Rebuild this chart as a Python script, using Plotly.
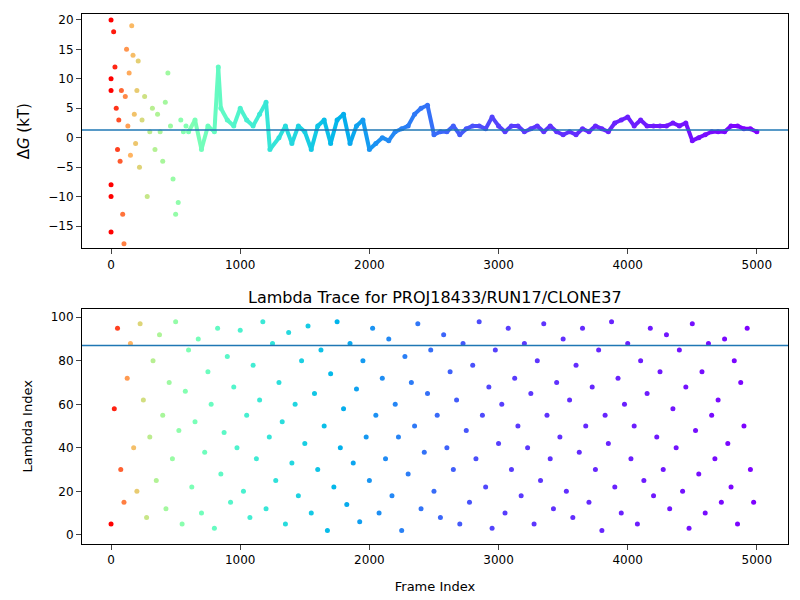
import math
import numpy as np
import plotly.graph_objects as go
from plotly.subplots import make_subplots

# ---- data ----
dg_frames = [0,0,0,0,0,0,20,30,40,50,60,70,80,90,100,110,120,130,140,150,160,170,180,190,200,210,220,240,260,280,300,320,340,360,380,400,420,440,460,480,500,520,540,560,580,
             600,650,700,750,800,830,850,900,950,1000,1050,1100,1150,1200,1230,1300,1350,1400,1450,1500,1550,1600,1650,1700,1750,1800,1850,1900,1950,2000,2050,2100,2150,2200,2250,2300,2350,2400,2450,2500,2550,2600,2650,2700,2750,2800,2850,2900,2950,3000,3050,3100,3150,3200,3250,3300,3350,3400,3450,3500,3550,3600,3650,3700,3750,3800,3850,3900,3950,4000,4050,4100,4150,4200,4250,4300,4350,4400,4450,4500,4550,4600,4650,4700,4750,4800,4850,4900,4950,5000]
dg_values = [20,10,8,-8,-10,-16,18,12,5,-2,3,-4,8,-13,-18,7,15,2,11,-3,19,14,4,-1,8,13,-5,3,7,-10,1,5,-2,4,1,-4,6,11,2,-7,-13,-11,3,1,2,
             1,3,-2,2,1,12,5,3,2,5,3,2,4,6,-2,0,2,-1,2,1,-2,2,3,-1,3,4,-1,2,3,-2,-1,0,-0.5,1,1.5,2,4,5,5.5,0.5,1,1,2,0.5,1.5,2,2,1.5,3.5,2,1,2,2,1,1.5,2,1,2,1,0.5,1,0.5,1.5,1,2,1.5,1,2.5,3,3.5,2,3,2,2,2,2,2.5,2,2.5,-0.5,0,0.5,1,1,1,2,2,1.5,1.5,1]
dg_ref = 1.3

lam_frames = list(range(0, 5000, 25))
lam_values = [5,58,95,30,15,72,88,40,20,97,62,8,45,80,25,92,55,12,70,35,
              98,48,5,66,85,22,52,90,10,38,75,60,3,95,28,47,82,15,68,40,
              94,20,55,8,78,35,62,98,12,45,88,25,70,52,5,93,33,60,18,80,
              42,96,10,65,30,85,50,2,74,22,98,40,58,14,88,33,67,6,80,45,
              25,95,55,10,72,35,90,18,60,45,2,82,28,70,50,97,12,38,65,85,
              20,55,8,92,40,75,30,62,5,88,48,15,78,35,98,55,22,68,3,85,
              42,60,10,95,30,72,50,18,88,40,65,5,80,25,97,55,35,12,70,45,
              90,20,62,8,78,38,95,50,15,68,30,85,2,55,42,98,22,72,10,60,
              88,35,50,5,80,25,65,95,18,45,75,30,92,12,58,40,85,20,68,3,
              97,48,28,75,10,88,55,35,62,15,90,42,22,80,5,70,50,95,30,15]
lam_ref = 87

# colour position along the rainbow map
cpos_frames = [0, 150, 300, 600, 1000, 1500, 2000, 3000, 5000]
cpos_values = [1.0, 0.75, 0.62, 0.5, 0.4, 0.3, 0.2, 0.08, 0.0]

def rainbow(x):
    r = min(1.0, abs(2 * x - 0.5)); g = math.sin(math.pi * x); b = math.cos(math.pi * x / 2)
    return f"rgb({int(r*255)},{int(g*255)},{int(b*255)})"
cscale = [[i / 40, rainbow(i / 40)] for i in range(41)]
def cpos(f):
    return float(np.interp(f, cpos_frames, cpos_values))

fig = make_subplots(rows=2, cols=1, vertical_spacing=0.1,
                    subplot_titles=("", "Lambda Trace for PROJ18433/RUN17/CLONE37"))

start = 45
for i in range(start, len(dg_frames) - 1):
    fig.add_trace(go.Scatter(x=[dg_frames[i], dg_frames[i+1]], y=[dg_values[i], dg_values[i+1]],
                             mode="lines", line=dict(color=rainbow(cpos(dg_frames[i])), width=4),
                             showlegend=False, hoverinfo="skip"), row=1, col=1)
fig.add_trace(go.Scatter(x=dg_frames, y=dg_values, mode="markers",
                         marker=dict(size=5, color=[cpos(f) for f in dg_frames], colorscale=cscale, cmin=0, cmax=1),
                         showlegend=False), row=1, col=1)
fig.add_trace(go.Scatter(x=lam_frames, y=lam_values, mode="markers",
                         marker=dict(size=5, color=[cpos(f) for f in lam_frames], colorscale=cscale, cmin=0, cmax=1),
                         showlegend=False), row=2, col=1)
fig.add_hline(y=dg_ref, line=dict(color="#1f77b4", width=1.5), row=1, col=1)
fig.add_hline(y=lam_ref, line=dict(color="#1f77b4", width=1.5), row=2, col=1)

ax = dict(showline=True, linecolor="black", mirror=True, ticks="outside", showgrid=False,
          zeroline=False, automargin=False, tickfont=dict(size=12, color="black"))
fig.update_xaxes(**ax, range=[-225, 5241], tickvals=[0, 1000, 2000, 3000, 4000, 5000])
fig.update_yaxes(**ax)
fig.update_yaxes(range=[-18.8, 21], tickvals=[-15, -10, -5, 0, 5, 10, 15, 20], row=1, col=1,
                 domain=[0.5577, 1],
                 title=dict(text="Δ<i>G</i> (kT)", font=dict(size=15, color="black")))
fig.update_yaxes(range=[-4.2, 104], tickvals=[0, 20, 40, 60, 80, 100], row=2, col=1,
                 domain=[0, 0.4442],
                 title=dict(text="Lambda Index", font=dict(size=13, color="black")))
fig.update_xaxes(title=dict(text="Frame Index", font=dict(size=13, color="black")), row=2, col=1)
fig.update_annotations(font=dict(size=16, color="black"))
fig.layout.annotations[-1].y = 0.4442
fig.update_layout(width=800, height=600, plot_bgcolor="white", paper_bgcolor="white",
                  margin=dict(l=74, r=20, t=6, b=64), font=dict(family="DejaVu Sans"))
fig.write_html("out.html")
